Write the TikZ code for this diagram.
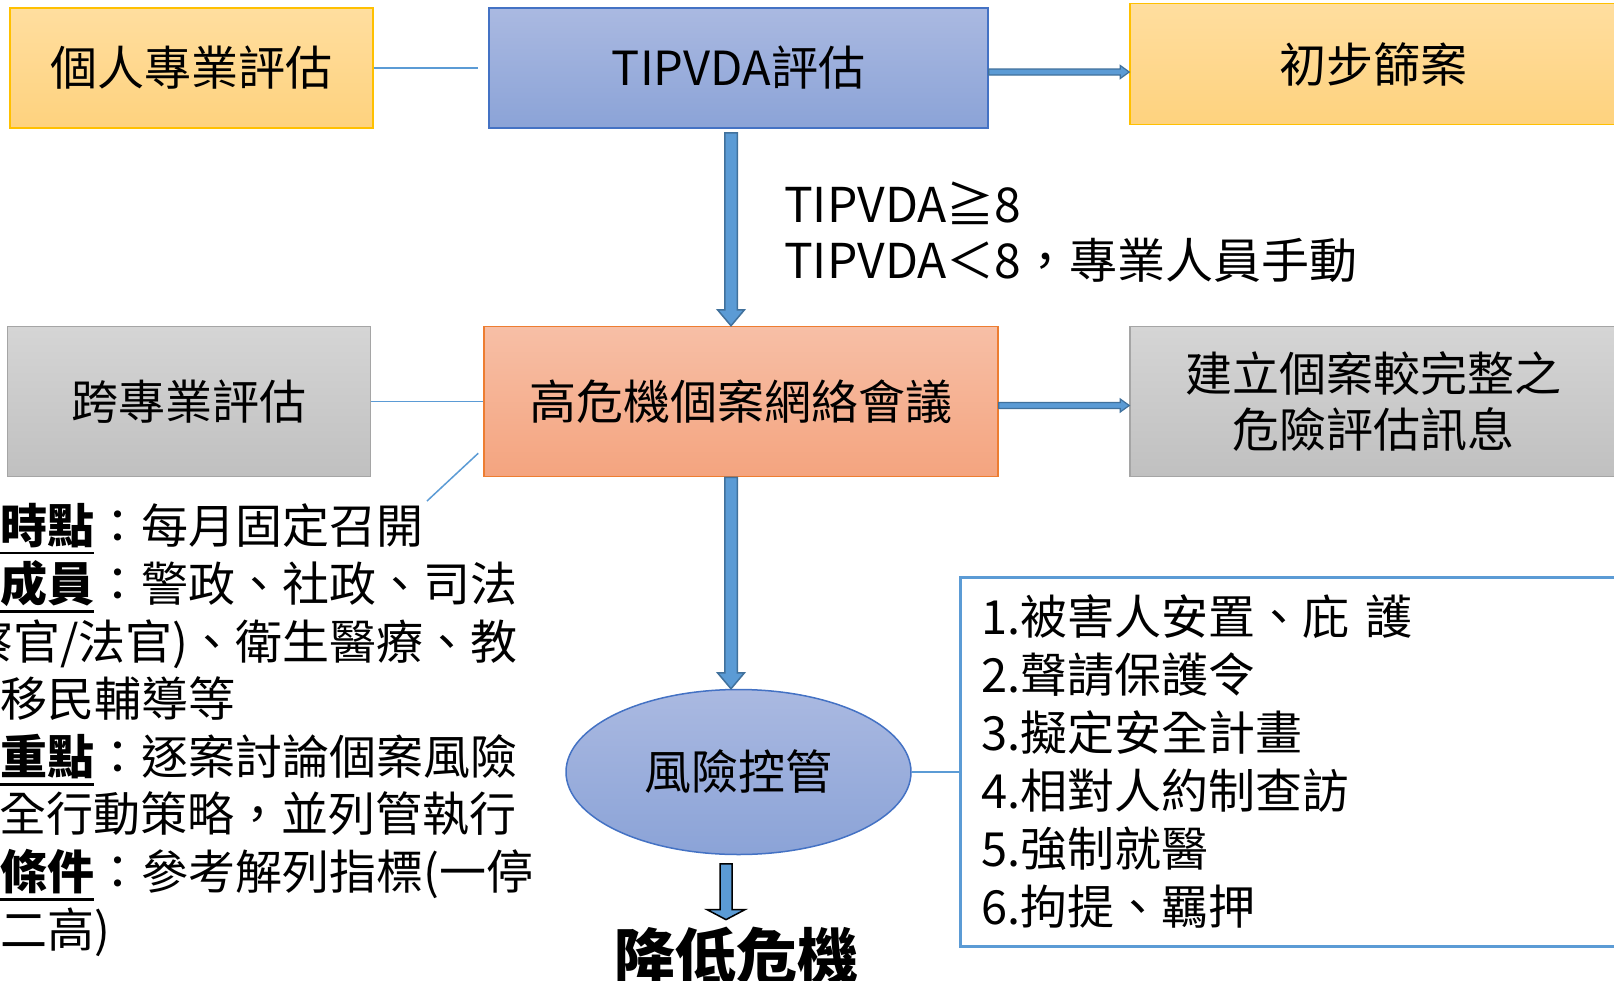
\documentclass[tikz,border=0pt]{standalone}
\usepackage{fontspec}
\setmainfont{Noto Sans CJK TC}
\usetikzlibrary{calc,shapes.geometric}
\definecolor{orgT}{HTML}{FFDE9F}
\definecolor{orgB}{HTML}{FED27E}
\definecolor{orgD}{HTML}{FFC000}
\definecolor{bluT}{HTML}{AAB9E1}
\definecolor{bluB}{HTML}{8BA3D7}
\definecolor{bluD}{HTML}{4472C4}
\definecolor{gryT}{HTML}{D5D5D5}
\definecolor{gryB}{HTML}{C0C0C0}
\definecolor{gryD}{HTML}{A5A5A5}
\definecolor{salT}{HTML}{F7BFA6}
\definecolor{salB}{HTML}{F4A47F}
\definecolor{salD}{HTML}{ED7D31}
\definecolor{lnC}{HTML}{5B9BD5}
\definecolor{arF}{HTML}{5B9BD5}
\definecolor{arD}{HTML}{41719C}
\newcommand\ulb[1]{\setbox0=\hbox{\bfseries #1}\rlap{\rule[-11pt]{\wd0}{2.5pt}}\box0}
\newcommand\harrow[3]{\path[#3] let \p1=(#1), \p2=(#2) in (\x1,\y1+3pt) -- (\x2-9pt,\y1+3pt) -- (\x2-9pt,\y1+6.5pt) -- (\x2,\y1) -- (\x2-9pt,\y1-6.5pt) -- (\x2-9pt,\y1-3pt) -- (\x1,\y1-3pt) -- cycle;}
\newcommand\varrow[6]{\path[#6] let \p1=(#1), \p2=(#2) in (\x1-#3pt,\y1) -- (\x1+#3pt,\y1) -- (\x1+#3pt,\y2+#5pt) -- (\x1+#4pt,\y2+#5pt) -- (\x1,\y2) -- (\x1-#4pt,\y2+#5pt) -- (\x1-#3pt,\y2+#5pt) -- cycle;}
\begin{document}
\begin{tikzpicture}[x=1pt,y=-1pt,
  box/.style={rectangle, draw, line width=1.5pt, inner sep=0pt, align=center, font=\fontsize{47}{56.6}\selectfont},
  orgbox/.style={box, draw=orgD, top color=orgT, bottom color=orgB},
  blubox/.style={box, draw=bluD, top color=bluT, bottom color=bluB},
  grybox/.style={box, draw=gryD, top color=gryT, bottom color=gryB},
  salbox/.style={box, draw=salD, top color=salT, bottom color=salB},
  conn/.style={draw=lnC, line width=1.5pt},
  harr/.style={fill=arF, draw=arD, line width=1.2pt},
  varr/.style={fill=arF, draw=arD, line width=1.5pt},
  darr/.style={fill=arF, draw=black, line width=1.5pt},
  lefttxt/.style={inner sep=0pt, anchor=base west, font=\fontsize{47}{57}\selectfont},
  righttxt/.style={inner sep=0pt, anchor=base east, font=\fontsize{47}{57}\selectfont},
]
\useasboundingbox (0,0) rectangle (1614,980);
\clip (0,0) rectangle (1614,980);
\fill[white] (0,0) rectangle (1614,980);

\node[orgbox, minimum width=363pt, minimum height=120pt] (b1) at (191.5,68) {個人專業評估};
\node[blubox, minimum width=499pt, minimum height=120pt] (tip) at (738.5,68) {TIPVDA評估};
\node[orgbox, minimum width=486pt, minimum height=121pt] (scr) at (1373,64) {初步篩案};
\node[grybox, minimum width=363pt, minimum height=150pt] (kua) at (189,401.5) {跨專業評估};
\node[salbox, minimum width=514pt, minimum height=150pt] (hi) at (741,401.5) {高危機個案網絡會議};
\node[grybox, minimum width=486pt, minimum height=150pt] (est) at (1373,401.5) {建立個案較完整之\\危險評估訊息};
\node[ellipse, draw=bluD, line width=1.5pt, top color=bluT, bottom color=bluB, minimum width=345pt, minimum height=165pt, inner sep=0pt, font=\fontsize{47}{56}\selectfont] (ell) at (738.5,772) {風險控管};
\node[draw=lnC, line width=2.5pt, fill=white, minimum height=369pt, text width=620pt, inner xsep=21pt, align=left, font=\fontsize{47}{58}\selectfont, anchor=north west] (lst) at (959,576) {1.被害人安置、庇 護\\2.聲請保護令\\3.擬定安全計畫\\4.相對人約制查訪\\5.強制就醫\\6.拘提、羈押};

\node[inner sep=0pt, anchor=west, align=left, font=\fontsize{48}{56}\selectfont] (cond) at (784,232) {TIPVDA≧8\\TIPVDA＜8，專業人員手動};

\node[lefttxt] (l1) at (0,543) {\ulb{時點}：每月固定召開};
\node[lefttxt] (l2) at (0,601.6) {\ulb{成員}：警政、社政、司法};
\node[righttxt] (l3) at (518,659.3) {察官/法官)、衛生醫療、教};
\node[lefttxt] (l4) at (0,716.9) {移民輔導等};
\node[lefttxt] (l5) at (0,774.5) {\ulb{重點}：逐案討論個案風險};
\node[righttxt] (l6) at (517,831.1) {全行動策略，並列管執行};
\node[lefttxt] (l7) at (0,889.8) {\ulb{條件}：參考解列指標(一停};
\node[lefttxt] (l8) at (0,947.5) {二高)};

\node[inner sep=0pt, font=\fontsize{61}{61}\selectfont\bfseries] (jd) at (736,956) {降低危機};

\draw[conn, shorten >=10pt] (b1.east) -- (tip.west);
\draw[conn] (kua.east) -- (hi.west);
\coordinate (dg) at (427,501);
\draw[conn] ($(hi.south west)+(-5,-24)$) -- (dg);
\draw[conn] (ell.east) -- (ell.east -| lst.west);

\harrow{$(tip.east)+(0,4)$}{scr.west}{harr}
\harrow{$(hi.east)+(0,4)$}{est.west}{harr}
\varrow{$(tip.south)+(-7.5,4)$}{hi.north}{6.25}{13.5}{16}{varr}
\varrow{$(hi.south)+(-10,0)$}{ell.north}{6.25}{13.5}{16}{varr}
\varrow{$(ell.south)+(-12.5,8.5)$}{$(jd.north)+(0,-7)$}{6}{19}{10}{darr}
\end{tikzpicture}
\end{document}
